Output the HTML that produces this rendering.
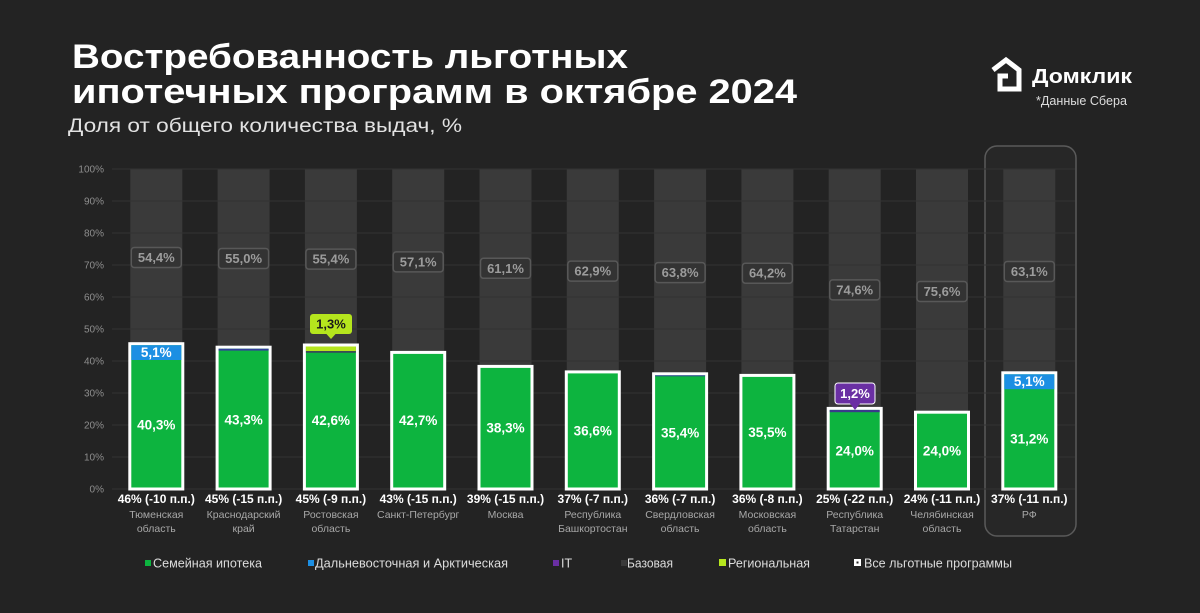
<!DOCTYPE html>
<html><head><meta charset="utf-8"><style>
html,body{margin:0;padding:0;background:#232323;}
svg{display:block;font-family:"Liberation Sans","DejaVu Sans",sans-serif;}
</style></head><body>
<svg width="1200" height="613" viewBox="0 0 1200 613" xmlns="http://www.w3.org/2000/svg">
<rect width="1200" height="613" fill="#232323"/>
<!-- Title -->
<text x="72" y="68" font-size="34" font-weight="bold" fill="#ffffff" textLength="556" lengthAdjust="spacingAndGlyphs">Востребованность льготных</text>
<text x="72" y="103" font-size="34" font-weight="bold" fill="#ffffff" textLength="725" lengthAdjust="spacingAndGlyphs">ипотечных программ в октябре 2024</text>
<text x="68" y="132" font-size="19.5" fill="#e2e2e2" textLength="394" lengthAdjust="spacingAndGlyphs">Доля от общего количества выдач, %</text>
<!-- Logo -->
<path d="M993 70 L1006 60 L1019 70 L1019 89 L1000 89 L1000 76 L1008 76" fill="none" stroke="#ffffff" stroke-width="5" stroke-linejoin="miter"/>
<text x="1032" y="83" font-size="20" font-weight="bold" fill="#ffffff" textLength="100" lengthAdjust="spacingAndGlyphs">Домклик</text>
<text x="1036" y="105" font-size="12.5" fill="#dddddd" textLength="91" lengthAdjust="spacingAndGlyphs">*Данные Сбера</text>
<!-- RF highlight box -->
<rect x="985" y="146" width="91" height="390" rx="12" fill="#272727" stroke="#5a5a5a" stroke-width="1.5"/>
<!-- grey columns -->
<g fill="#3a3a3a">
<rect x="130.3" y="169" width="52" height="320"/>
<rect x="217.6" y="169" width="52" height="320"/>
<rect x="304.9" y="169" width="52" height="320"/>
<rect x="392.2" y="169" width="52" height="320"/>
<rect x="479.5" y="169" width="52" height="320"/>
<rect x="566.8" y="169" width="52" height="320"/>
<rect x="654.1" y="169" width="52" height="320"/>
<rect x="741.4" y="169" width="52" height="320"/>
<rect x="828.7" y="169" width="52" height="320"/>
<rect x="916" y="169" width="52" height="320"/>
<rect x="1003.3" y="169" width="52" height="320"/>
</g>
<!-- gridlines -->
<g stroke="#333333" stroke-width="1">
<line x1="112" y1="169" x2="1075" y2="169"/>
<line x1="112" y1="201" x2="1075" y2="201"/>
<line x1="112" y1="233" x2="1075" y2="233"/>
<line x1="112" y1="265" x2="1075" y2="265"/>
<line x1="112" y1="297" x2="1075" y2="297"/>
<line x1="112" y1="329" x2="1075" y2="329"/>
<line x1="112" y1="361" x2="1075" y2="361"/>
<line x1="112" y1="393" x2="1075" y2="393"/>
<line x1="112" y1="425" x2="1075" y2="425"/>
<line x1="112" y1="457" x2="1075" y2="457"/>
<line x1="112" y1="489" x2="1075" y2="489"/>
</g>
<!-- y labels -->
<g font-size="10" fill="#8e8e8e" text-anchor="end">
<text x="104" y="172.5">100%</text>
<text x="104" y="204.5">90%</text>
<text x="104" y="236.5">80%</text>
<text x="104" y="268.5">70%</text>
<text x="104" y="300.5">60%</text>
<text x="104" y="332.5">50%</text>
<text x="104" y="364.5">40%</text>
<text x="104" y="396.5">30%</text>
<text x="104" y="428.5">20%</text>
<text x="104" y="460.5">10%</text>
<text x="104" y="492.5">0%</text>
</g>
<!-- base labels -->
<g fill="#333333" stroke="#585858" stroke-width="1.5">
<rect x="131.3" y="247.5" width="50" height="20" rx="3"/>
<rect x="218.6" y="248.5" width="50" height="20" rx="3"/>
<rect x="305.9" y="249.1" width="50" height="20" rx="3"/>
<rect x="393.2" y="251.9" width="50" height="20" rx="3"/>
<rect x="480.5" y="258.3" width="50" height="20" rx="3"/>
<rect x="567.8" y="261.1" width="50" height="20" rx="3"/>
<rect x="655.1" y="262.6" width="50" height="20" rx="3"/>
<rect x="742.4" y="263.2" width="50" height="20" rx="3"/>
<rect x="829.7" y="279.9" width="50" height="20" rx="3"/>
<rect x="917" y="281.5" width="50" height="20" rx="3"/>
<rect x="1004.3" y="261.5" width="50" height="20" rx="3"/>
</g>
<g font-size="13" font-weight="bold" fill="#9c9c9c" text-anchor="middle">
<text x="156.3" y="262">54,4%</text>
<text x="243.6" y="263">55,0%</text>
<text x="330.9" y="263.6">55,4%</text>
<text x="418.2" y="266.4">57,1%</text>
<text x="505.5" y="272.8">61,1%</text>
<text x="592.8" y="275.6">62,9%</text>
<text x="680.1" y="277.1">63,8%</text>
<text x="767.4" y="277.7">64,2%</text>
<text x="854.7" y="294.4">74,6%</text>
<text x="942" y="296">75,6%</text>
<text x="1029.3" y="276">63,1%</text>
</g>
<!-- bars: outline -->
<g fill="#0db43f" stroke="#ffffff" stroke-width="3">
<rect x="129.8" y="343.7" width="53" height="145.3"/>
<rect x="217.1" y="347.2" width="53" height="141.8"/>
<rect x="304.4" y="345" width="53" height="144"/>
<rect x="391.7" y="352.4" width="53" height="136.6"/>
<rect x="479" y="366.4" width="53" height="122.6"/>
<rect x="566.3" y="371.9" width="53" height="117.1"/>
<rect x="653.6" y="373.8" width="53" height="115.2"/>
<rect x="740.9" y="375.4" width="53" height="113.6"/>
<rect x="828.2" y="408.4" width="53" height="80.6"/>
<rect x="915.5" y="412.2" width="53" height="76.8"/>
<rect x="1002.8" y="372.8" width="53" height="116.2"/>
</g>
<!-- extra segments -->
<rect x="131.3" y="345.2" width="50" height="14.8" fill="#1c8fe3"/>
<rect x="218.6" y="348.7" width="50" height="1.9" fill="#33409a"/>
<rect x="305.9" y="346.5" width="50" height="4.6" fill="#b5e61d"/>
<rect x="305.9" y="351.1" width="50" height="1.6" fill="#3d3d5a"/>
<rect x="655.1" y="375.3" width="50" height="1" fill="#33409a"/>
<rect x="829.7" y="409.9" width="50" height="2.3" fill="#3a3a8a"/>
<rect x="1004.3" y="374.3" width="50" height="14.9" fill="#1c8fe3"/>
<!-- value labels -->
<g font-size="13.5" font-weight="bold" fill="#ffffff" text-anchor="middle">
<text x="156.3" y="429.5">40,3%</text>
<text x="243.6" y="424.5">43,3%</text>
<text x="330.9" y="425">42,6%</text>
<text x="418.2" y="424.8">42,7%</text>
<text x="505.5" y="432.7">38,3%</text>
<text x="592.8" y="435.4">36,6%</text>
<text x="680.1" y="437.4">35,4%</text>
<text x="767.4" y="437.2">35,5%</text>
<text x="854.7" y="455.6">24,0%</text>
<text x="942" y="455.6">24,0%</text>
<text x="1029.3" y="443.7">31,2%</text>
<text x="156.3" y="357">5,1%</text>
<text x="1029.3" y="386">5,1%</text>
</g>
<!-- callouts -->
<rect x="310" y="314" width="42" height="20" rx="3" fill="#b5e61d"/>
<polygon points="326,333.5 336,333.5 331,339" fill="#b5e61d"/>
<text x="331" y="328.5" font-size="13" font-weight="bold" fill="#1a1a1a" text-anchor="middle">1,3%</text>
<rect x="835" y="383" width="40" height="21" rx="3" fill="#6a2fa3" stroke="#ffffff" stroke-width="1"/>
<polygon points="850,403.5 860,403.5 855,410" fill="#6a2fa3"/>
<text x="855" y="398" font-size="13" font-weight="bold" fill="#ffffff" text-anchor="middle">1,2%</text>
<!-- bottom labels -->
<g font-size="12" font-weight="bold" fill="#ffffff" text-anchor="middle">
<text x="156.3" y="503">46% (-10 п.п.)</text>
<text x="243.6" y="503">45% (-15 п.п.)</text>
<text x="330.9" y="503">45% (-9 п.п.)</text>
<text x="418.2" y="503">43% (-15 п.п.)</text>
<text x="505.5" y="503">39% (-15 п.п.)</text>
<text x="592.8" y="503">37% (-7 п.п.)</text>
<text x="680.1" y="503">36% (-7 п.п.)</text>
<text x="767.4" y="503">36% (-8 п.п.)</text>
<text x="854.7" y="503">25% (-22 п.п.)</text>
<text x="942" y="503">24% (-11 п.п.)</text>
<text x="1029.3" y="503">37% (-11 п.п.)</text>
</g>
<g font-size="10.5" fill="#a8a8a8" text-anchor="middle">
<text x="156.3" y="518">Тюменская</text><text x="156.3" y="532">область</text>
<text x="243.6" y="518">Краснодарский</text><text x="243.6" y="532">край</text>
<text x="330.9" y="518">Ростовская</text><text x="330.9" y="532">область</text>
<text x="418.2" y="518">Санкт-Петербург</text>
<text x="505.5" y="518">Москва</text>
<text x="592.8" y="518">Республика</text><text x="592.8" y="532">Башкортостан</text>
<text x="680.1" y="518">Свердловская</text><text x="680.1" y="532">область</text>
<text x="767.4" y="518">Московская</text><text x="767.4" y="532">область</text>
<text x="854.7" y="518">Республика</text><text x="854.7" y="532">Татарстан</text>
<text x="942" y="518">Челябинская</text><text x="942" y="532">область</text>
<text x="1029.3" y="518">РФ</text>
</g>
<!-- legend -->
<rect x="145" y="560" width="6" height="6" fill="#0db43f"/>
<rect x="308" y="560" width="6" height="6" fill="#1c8fe3"/>
<rect x="553" y="560" width="6" height="6" fill="#6a2fa3"/>
<rect x="621" y="560" width="6" height="6" fill="#3a3a3a"/>
<rect x="719" y="559" width="7" height="7" fill="#b5e61d"/>
<rect x="854" y="559" width="7" height="7" fill="#ffffff"/>
<rect x="856.5" y="561.5" width="2" height="2" fill="#232323"/>
<g font-size="12.5" fill="#dcdcdc">
<text x="153" y="567.5" textLength="109" lengthAdjust="spacingAndGlyphs">Семейная ипотека</text>
<text x="315" y="567.5" textLength="193" lengthAdjust="spacingAndGlyphs">Дальневосточная и Арктическая</text>
<text x="561" y="567.5">IT</text>
<text x="627" y="567.5" textLength="46" lengthAdjust="spacingAndGlyphs">Базовая</text>
<text x="728" y="567.5" textLength="82" lengthAdjust="spacingAndGlyphs">Региональная</text>
<text x="864" y="567.5" textLength="148" lengthAdjust="spacingAndGlyphs">Все льготные программы</text>
</g>
</svg>
</body></html>
